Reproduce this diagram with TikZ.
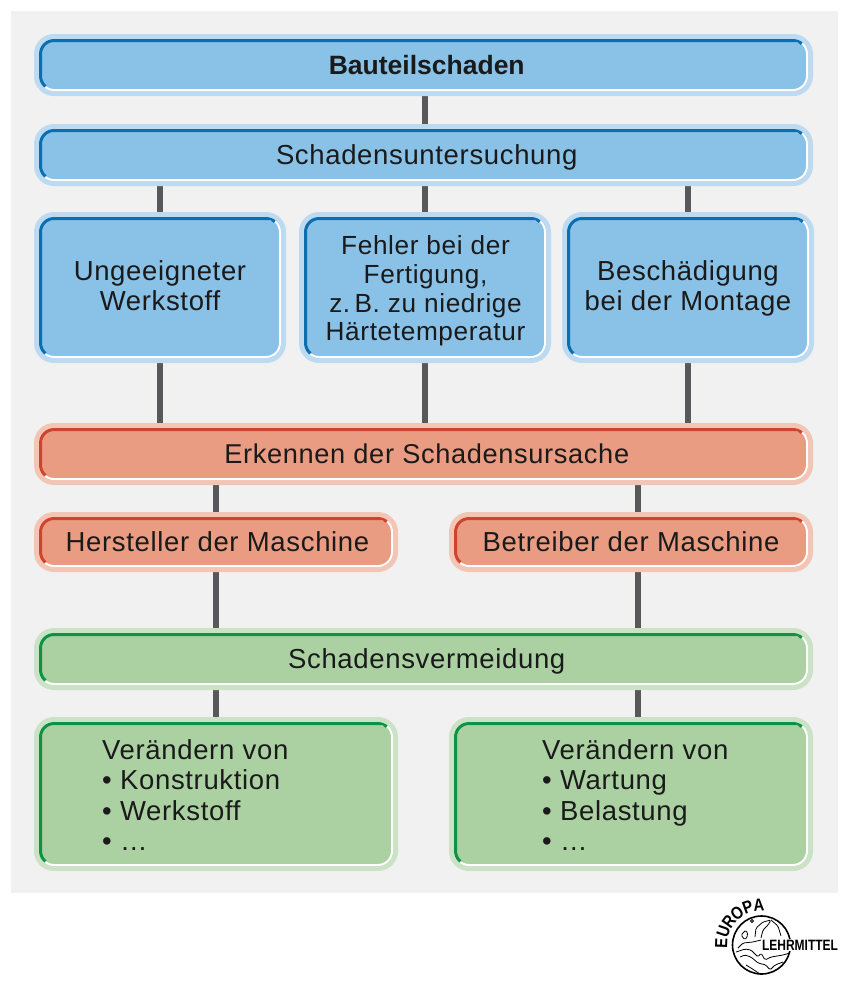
\documentclass[tikz,border=0pt]{standalone}
\usepackage{fontspec}
\setmainfont[LetterSpace=2.4,BoldFeatures={LetterSpace=0}]{Liberation Sans}
\usepackage{tikz}
\usetikzlibrary{backgrounds}

\definecolor{BlueFill}{HTML}{89C1E7}
\definecolor{BlueHalo}{HTML}{BDDAF0}
\definecolor{BlueLine}{HTML}{0A6EB0}
\definecolor{RedFill}{HTML}{E99C82}
\definecolor{RedHalo}{HTML}{F3C5B5}
\definecolor{RedLine}{HTML}{D0432F}
\definecolor{GreenFill}{HTML}{ABD1A3}
\definecolor{GreenHalo}{HTML}{CBE2C6}
\definecolor{GreenLine}{HTML}{0E9344}
\definecolor{PageGray}{HTML}{F1F1F1}
\definecolor{LinkGray}{HTML}{58585A}
\definecolor{TextBlack}{HTML}{1A1A1A}

\begin{document}
\begin{tikzpicture}[x=1pt,y=-1pt]
	\tikzset{
		Box/.style n args={3}{rounded corners=15pt, fill=#1,
			preaction={draw=#2, line width=10pt},
			inner sep=0pt, align=center, text=TextBlack, font=\fontsize{27.5}{30}\selectfont,
			path picture={
				\draw [white, line width=4pt, rounded corners=15pt]
					(path picture bounding box.south west) rectangle (path picture bounding box.north east);
				\draw [#3, line width=6pt, rounded corners=15pt]
					([yshift=15pt]path picture bounding box.south west) arc (180:230:15pt)
					([yshift=15pt]path picture bounding box.south west) -- (path picture bounding box.north west)
					-- ([xshift=-15pt]path picture bounding box.north east) arc (90:50:15pt);
			}},
		Blue/.style={Box={BlueFill}{BlueHalo}{BlueLine}},
		Red/.style={Box={RedFill}{RedHalo}{RedLine}},
		Green/.style={Box={GreenFill}{GreenHalo}{GreenLine}},
		OneLine/.style={text height=19pt, text depth=1pt},
		Wide/.style={minimum width=769pt, minimum height=52pt, OneLine, execute at begin node=\hspace*{6.5pt}},
		Half/.style={minimum width=354pt, minimum height=50pt, OneLine},
		Third/.style={minimum width=242pt, minimum height=141pt},
		Action/.style={minimum width=354pt, minimum height=144pt},
		BoxText/.style={align=center, text=TextBlack, inner sep=0pt, font=\fontsize{27.5}{30}\selectfont},
		ListText/.style={anchor=west, align=left, text=TextBlack, inner sep=0pt,
			font=\fontsize{27.5}{30.3}\selectfont},
		Link/.style={LinkGray, line width=6pt},
		Coast/.style={black, line width=0.8pt, rounded corners=1.5pt},
	}

	\node (damage) at (423.5,65) [Blue,Wide] {\fontsize{26.5}{30}\selectfont\bfseries Bauteilschaden};
	\node (survey) at (423.5,155) [Blue,Wide] {Schadensuntersuchung};

	\node (material) at (160,287.5) [Blue,Third] {};
	\node (production) at (425,287.5) [Blue,Third] {};
	\node (assembly) at (688,287.5) [Blue,Third] {};
	\node (materialText) at (160,285.5) [BoxText] {Ungeeigneter\\Werkstoff};
	\node (productionText) at (425.5,291) [BoxText, font=\fontsize{26.2}{28.8}\selectfont] {Fehler bei der\\Fertigung,\\z.\,B. zu niedrige\\Härtetemperatur};
	\node (assemblyText) at (688,288.5) [BoxText] {Beschädigung\\bei der Montage};

	\node (cause) at (423.5,454) [Red,Wide, font=\fontsize{27.2}{30}\selectfont] {Erkennen der Schadensursache};
	\node (maker) at (216,542) [Red,Half] {\hspace*{3pt}Hersteller der Maschine};
	\node (operator) at (631,542) [Red,Half] {Betreiber der Maschine};

	\node (avoid) at (423.5,659) [Green,Wide] {Schadensvermeidung};
	\node (change1) at (216,794) [Green,Action] {};
	\node (change2) at (631,794) [Green,Action] {};

	\node (list1) at (102,795) [ListText] {Verändern von\\• Konstruktion\\• Werkstoff\\• …};
	\node (list2) at (542,795) [ListText] {Verändern von\\• Wartung\\• Belastung\\• …};

	\coordinate (opTop) at ([xshift=7pt]operator.north);
	\coordinate (opBot) at ([xshift=7pt]operator.south);

	\begin{scope}[on background layer]
		\path [fill=white] (0,0) rectangle (848,986);
		\path [fill=PageGray] (11,11) rectangle (838,893);
		\draw [Link] (damage.south -| production.north) -- (survey.north -| production.north);
		\draw [Link] (survey.south -| material.north) -- (material.north);
		\draw [Link] (survey.south -| production.north) -- (production.north);
		\draw [Link] (survey.south -| assembly.north) -- (assembly.north);
		\draw [Link] (material.south) -- (cause.north -| material.south);
		\draw [Link] (production.south) -- (cause.north -| production.south);
		\draw [Link] (assembly.south) -- (cause.north -| assembly.south);
		\draw [Link] (cause.south -| maker.north) -- (maker.north);
		\draw [Link] (cause.south -| opTop) -- (opTop);
		\draw [Link] (maker.south) -- (avoid.north -| maker.south);
		\draw [Link] (opBot) -- (avoid.north -| opBot);
		\draw [Link] (avoid.south -| change1.north) -- (change1.north);
		\draw [Link] (avoid.south -| opTop) -- (change2.north -| opTop);
	\end{scope}

	% logo
	\node (globe) at (761.5,945) [circle, draw=black, line width=1.6pt, minimum size=58pt] {};
	\draw [Coast] (752,921) circle (1.5pt);
	\draw [Coast] (741,935) -- (746,930) -- (748,935) -- (745,940) -- cycle;
	\draw [Coast] (755,937) -- (756,928) -- (763,922) -- (771,920) -- (768,925) -- (763,930) -- (761,938);
	\draw [Coast] (738,948) -- (743,943) -- (753,942) -- (761,940);
	\draw [Coast] (771,920) -- (778,926) -- (781,936);
	\draw [Coast] (736,952) -- (745,949) -- (751,950) -- (758,957) -- (761,953) -- (765,960) -- (771,957) -- (783,955) -- (790,953);
	\draw [Coast] (740,957) -- (745,955) -- (751,957) -- (758,963) -- (766,965) -- (770,970) -- (775,965) -- (783,962);
	\draw [Coast] (746,965) -- (751,968) -- (760,974);
	\foreach \ch/\ang in {E/178,U/161,R/144,O/127,P/110,A/94}
		\node (logo\ch) at ([shift={(\ang:34pt)}]globe.center) [anchor=south, rotate=\ang-90, xscale=0.85,
			inner sep=0pt, font=\fontsize{17.5}{18}\bfseries\selectfont] {\ch};
	\node (lehr) at (800,945) [fill=white, inner xsep=1pt, inner ysep=0.5pt, xscale=0.8,
		font=\fontsize{15}{15}\bfseries\selectfont] {LEHRMITTEL};
\end{tikzpicture}
\end{document}
